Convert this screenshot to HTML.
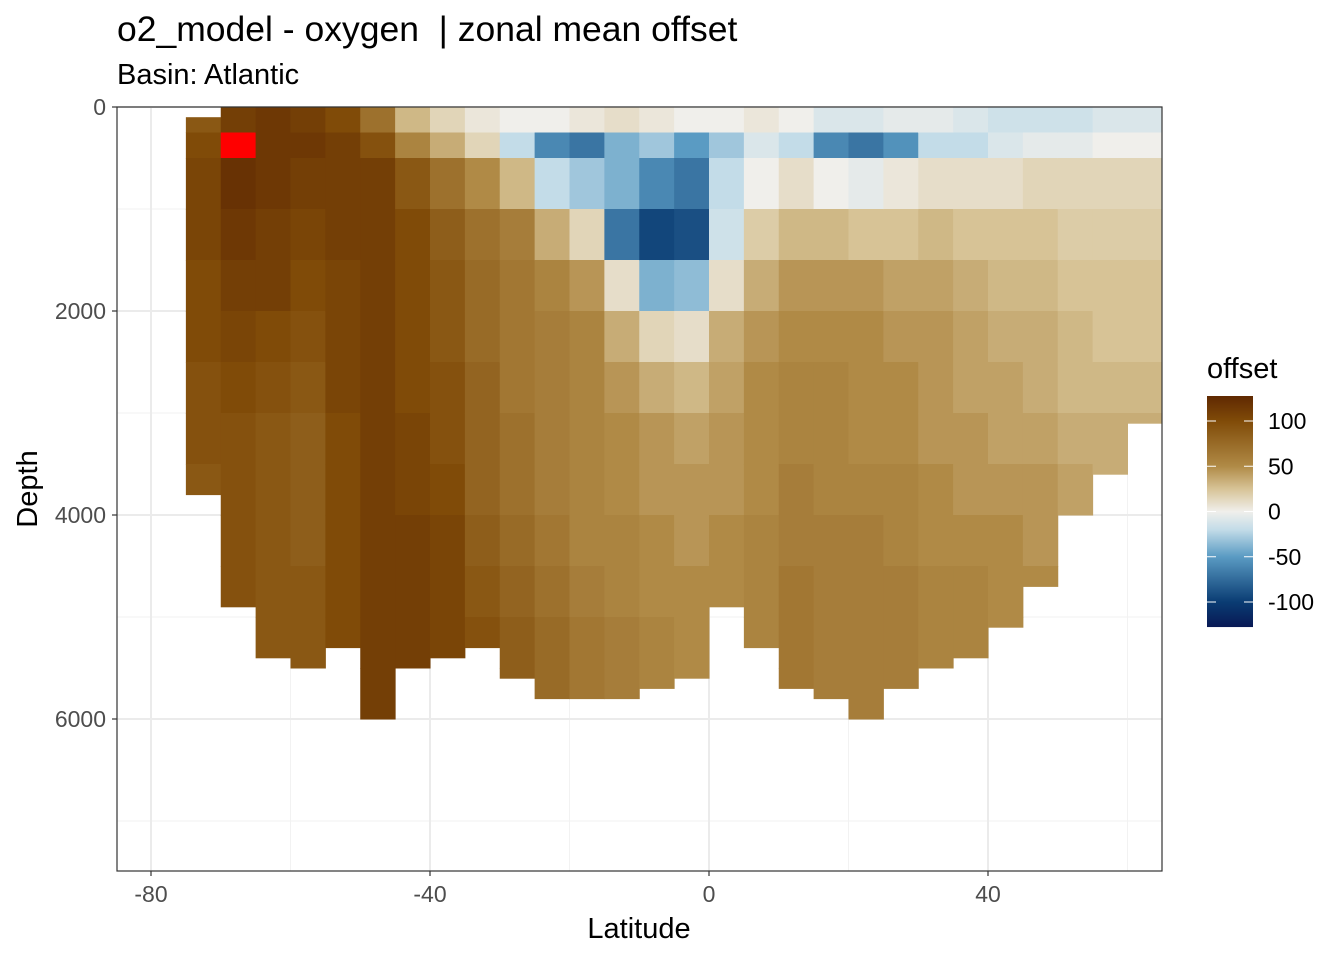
<!DOCTYPE html>
<html><head><meta charset="utf-8"><style>
body{margin:0;background:#fff;}
svg{display:block;font-family:"Liberation Sans",sans-serif;}
text{white-space:pre;}
</style></head><body>
<svg id="chart" width="1344" height="960" xmlns="http://www.w3.org/2000/svg">
<text x="117" y="41" style="font-size:35.5px" fill="#000" xml:space="preserve">o2_model - oxygen  | zonal mean offset</text>
<text x="117" y="84" style="font-size:29px" fill="#000">Basin: Atlantic</text>
<g id="panel"></g>
<g id="axes"></g>
<text x="639" y="938" style="font-size:29px" text-anchor="middle">Latitude</text>
<text transform="translate(37,489) rotate(-90)" style="font-size:29px" text-anchor="middle">Depth</text>
<text x="1207" y="378" style="font-size:29px">offset</text>
<g id="legend"></g>
</svg>
<script>
const latStarts=[-75,-70,-65,-60,-55,-50,-45,-40,-35,-30,-25,-20,-15,-10,-5,0,5,10,15,20,25,30,35,40,45,50,55,60];
const depthEdges=[0,250,500,1000,1500,2000,2500,3000,3500,4000,4500,5000,5500,6000];
const topDepth=[100,0,0,0,0,0,0,0,0,0,0,0,0,0,0,0,0,0,0,0,0,0,0,0,0,0,0,0];
const bottomDepth=[3800,4900,5400,5500,5300,6000,5500,5400,5300,5600,5800,5800,5800,5700,5600,4900,5300,5700,5800,6000,5700,5500,5400,5100,4700,4000,3600,3100];
const offsets=[
[90,100,105,105,100,100,95,95,90,90,90,90,90],
[110,135,120,115,110,105,100,95,95,95,95,95,95],
[115,115,115,110,110,100,95,90,90,90,90,90,90],
[110,115,110,105,100,95,90,85,85,85,90,90,90],
[100,110,110,110,105,105,105,100,100,100,100,100,100],
[70,95,110,110,110,110,110,110,110,110,110,110,110],
[30,55,90,100,100,100,100,105,105,110,110,110,110],
[15,35,70,85,90,90,95,95,100,105,105,105,105],
[5,15,50,70,75,75,80,80,80,85,90,95,95],
[0,-20,30,60,65,65,65,70,70,75,80,85,85],
[0,-60,-20,35,55,60,60,60,60,65,70,75,75],
[5,-70,-30,15,45,55,55,55,55,55,60,65,65],
[10,-40,-40,-70,10,35,45,50,50,55,55,60,60],
[5,-30,-60,-95,-40,15,35,45,45,50,50,55,55],
[0,-50,-70,-90,-35,10,30,40,45,45,50,50,50],
[0,-30,-20,-15,10,35,40,45,45,50,50,50,50],
[5,-10,0,20,35,45,50,50,50,55,55,55,55],
[0,-20,10,30,45,50,55,55,60,60,65,65,65],
[-10,-60,0,30,45,50,55,55,55,60,60,60,60],
[-10,-70,-5,25,45,50,50,50,55,60,60,60,60],
[-5,-55,5,25,40,45,50,50,55,55,60,60,60],
[-5,-20,10,30,40,45,45,45,50,50,55,55,55],
[-10,-20,10,25,35,40,40,45,45,50,55,55,55],
[-15,-10,10,25,30,35,40,40,45,50,50,50,50],
[-15,-5,15,25,30,35,35,40,45,45,50,50,50],
[-15,-5,15,20,25,30,30,35,40,40,40,40,40],
[-10,0,15,20,25,25,30,35,35,35,35,35,35],
[-10,0,15,20,25,25,30,35,35,35,35,35,35]];
const xTicks=[-80,-40,0,40];
const xMinor=[-60,-20,20,60];
const yTicks=[0,2000,4000,6000];
const yMinor=[1000,3000,5000,7000];
const legendTicks=[100,50,0,-50,-100];

const NS="http://www.w3.org/2000/svg";
const PL=117,PR=1162,PT=107,PB=871;
const xs=v=>709+v*6.975;
const ys=d=>107+d*0.102;
const stops=[[-128,[8,24,84]],[-100,[10,60,115]],[-50,[90,155,195]],[-20,[195,220,232]],[0,[240,239,235]],[25,[215,195,150]],[50,[176,138,70]],[100,[128,75,8]],[128,[95,40,2]]];
function col(v){
 if(v>128||v<-128) return "#ff0000";
 for(let i=0;i<stops.length-1;i++){const a=stops[i],b=stops[i+1];
  if(v<=b[0]){const t=(v-a[0])/(b[0]-a[0]);const c=a[1].map((x,k)=>Math.round(x+(b[1][k]-x)*t));return `rgb(${c})`;}}
 return "#5f2802";
}
function mk(tag,attrs,parent){const e=document.createElementNS(NS,tag);for(const k in attrs)e.setAttribute(k,attrs[k]);parent.appendChild(e);return e;}
const panel=document.getElementById('panel');
mk('rect',{x:PL,y:PT,width:PR-PL,height:PB-PT,fill:'#fff'},panel);
xMinor.forEach(v=>{const l=mk('line',{x1:xs(v),x2:xs(v),y1:PT,y2:PB,stroke:'#f2f2f2','stroke-width':1},panel);});
yMinor.forEach(v=>{const l=mk('line',{x1:PL,x2:PR,y1:ys(v),y2:ys(v),stroke:'#f2f2f2','stroke-width':1},panel);});
xTicks.forEach(v=>{const l=mk('line',{x1:xs(v),x2:xs(v),y1:PT,y2:PB,stroke:'#ebebeb','stroke-width':2},panel);});
yTicks.forEach(v=>{const l=mk('line',{x1:PL,x2:PR,y1:ys(v),y2:ys(v),stroke:'#ebebeb','stroke-width':2},panel);});
latStarts.forEach((lat,i)=>{
 for(let r=0;r<depthEdges.length-1;r++){
  let d0=Math.max(depthEdges[r],topDepth[i]),d1=Math.min(depthEdges[r+1],bottomDepth[i]);
  if(d1<=d0)continue;
  const x0=Math.max(xs(lat),PL),x1=Math.min(xs(lat+5),PR);
  const c=mk('rect',{x:x0,y:ys(d0),width:x1-x0+0.5,height:ys(d1)-ys(d0)+0.5,fill:col(offsets[i][r])},panel);
  
  
 }
});
mk('rect',{x:PL,y:PT,width:PR-PL,height:PB-PT,fill:'none',stroke:'#333','stroke-width':1.2},panel);
const axes=document.getElementById('axes');
xTicks.forEach(v=>{mk('line',{x1:xs(v),x2:xs(v),y1:PB,y2:PB+5,stroke:'#333','stroke-width':1.2},axes);
 const t=mk('text',{x:xs(v),y:PB+31,style:'font-size:23px',fill:'#4d4d4d','text-anchor':'middle'},axes);t.textContent=v;
 });
yTicks.forEach(v=>{mk('line',{x1:PL-5,x2:PL,y1:ys(v),y2:ys(v),stroke:'#333','stroke-width':1.2},axes);
 const t=mk('text',{x:PL-11,y:ys(v)+8,style:'font-size:23px',fill:'#4d4d4d','text-anchor':'end'},axes);t.textContent=v;
 });
const lg=document.getElementById('legend');
const LT=396,LB=627,ly=v=>511.5-v*0.905;
for(let y=LT;y<LB;y++){const v=(511.5-(y+0.5))/0.905;mk('rect',{x:1207,y:y,width:46,height:1.05,fill:col(Math.max(-128,Math.min(128,v)))},lg);}
legendTicks.forEach(v=>{
 mk('line',{x1:1207,x2:1216,y1:ly(v),y2:ly(v),stroke:'#fff','stroke-width':1},lg);
 mk('line',{x1:1244,x2:1253,y1:ly(v),y2:ly(v),stroke:'#fff','stroke-width':1},lg);
 const t=mk('text',{x:1268,y:ly(v)+8,style:'font-size:23px',fill:'#000'},lg);t.textContent=v;
 });
</script>
</body></html>
